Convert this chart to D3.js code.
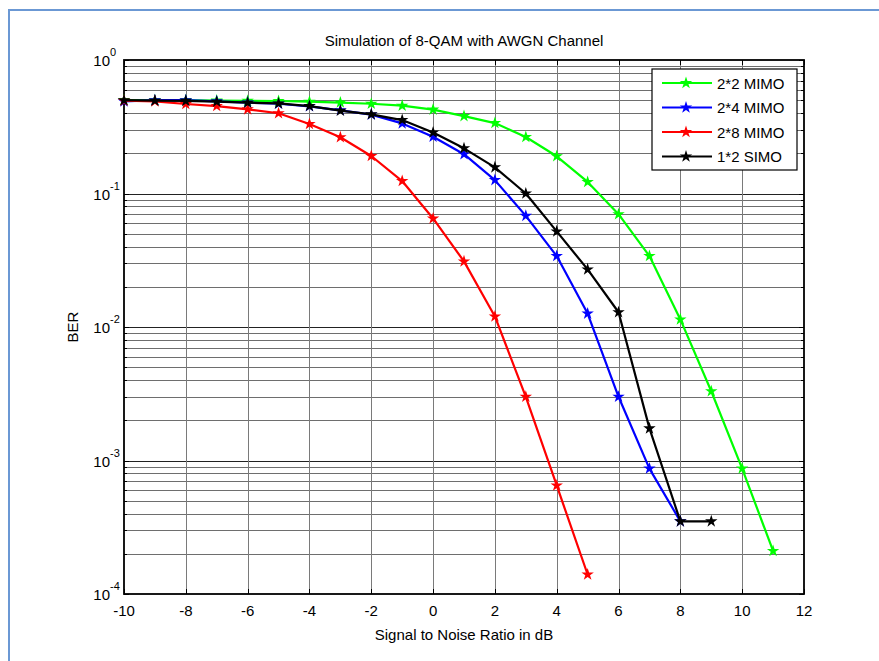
<!DOCTYPE html>
<html>
<head>
<meta charset="utf-8">
<script src="https://cdn.jsdelivr.net/npm/d3@7"></script>
<style>
  html, body { margin: 0; padding: 0; background: #fff; }
  svg { display: block; font-family: "Liberation Sans", Arial, sans-serif; }
</style>
</head>
<body>
<svg id="chart" width="879" height="661"></svg>
<script>
// SNR axis values (dB)
const snrGreen = d3.range(-10, 12);
const snrBlue = d3.range(-10, 9);
const snrRed = d3.range(-10, 6);
const snrBlack = d3.range(-10, 10);

// BER
const berMimo22 = [0.50, 0.50, 0.50, 0.497, 0.495, 0.493, 0.487, 0.48, 0.47, 0.455, 0.425,
  0.38, 0.337, 0.265, 0.19, 0.122, 0.07, 0.034, 0.0114, 0.0033, 0.00087, 0.00021];
const berMimo24 = [0.49, 0.50, 0.50, 0.49, 0.48, 0.47, 0.45, 0.42, 0.39, 0.335, 0.266,
  0.197, 0.126, 0.068, 0.034, 0.0126, 0.0030, 0.00087, 0.00035];
const berMimo28 = [0.495, 0.49, 0.468, 0.452, 0.427, 0.399, 0.332, 0.264, 0.191, 0.124,
  0.065, 0.031, 0.012, 0.003, 0.00065, 0.00014];
const berSimo12 = [0.50, 0.496, 0.494, 0.487, 0.479, 0.473, 0.452, 0.417, 0.392, 0.355, 0.286,
  0.218, 0.157, 0.10, 0.052, 0.027, 0.0129, 0.00174, 0.00035, 0.00035];

const seriesNames = ["2*2 MIMO", "2*4 MIMO", "2*8 MIMO", "1*2 SIMO"];
const seriesColors = ["#00ff00", "#0000ff", "#ff0000", "#000000"];
const xTicks = d3.range(-10, 13, 2);
const yDecades = [1, 0.1, 0.01, 0.001, 0.0001];

const series = [
  { name: seriesNames[0], color: seriesColors[0], x: snrGreen, y: berMimo22 },
  { name: seriesNames[1], color: seriesColors[1], x: snrBlue, y: berMimo24 },
  { name: seriesNames[2], color: seriesColors[2], x: snrRed, y: berMimo28 },
  { name: seriesNames[3], color: seriesColors[3], x: snrBlack, y: berSimo12 },
];

const svg = d3.select("#chart");

// page frame (blue border from the document)
svg.append("rect")
  .attr("x", 9).attr("y", 10)
  .attr("width", 900).attr("height", 700)
  .attr("fill", "none")
  .attr("stroke", "#6b98d4")
  .attr("stroke-width", 2);

const pLeft = 124, pRight = 804, pTop = 60, pBottom = 594;

const x = d3.scaleLinear().domain([-10, 12]).range([pLeft, pRight]);
const y = d3.scaleLog().domain([1e-4, 1]).range([pBottom, pTop]);

// minor values per decade
const yMinor = [];
[0.0001, 0.001, 0.01, 0.1].forEach(function (d) {
  for (let k = 2; k <= 9; k++) yMinor.push(d * k);
});

// grid
const grid = svg.append("g");
grid.selectAll("line.hm")
  .data(yMinor)
  .join("line")
  .attr("x1", pLeft).attr("x2", pRight)
  .attr("y1", (d) => Math.round(y(d)) + 0.5)
  .attr("y2", (d) => Math.round(y(d)) + 0.5)
  .attr("stroke", "#6e6e6e")
  .attr("stroke-width", 1);
grid.selectAll("line.hM")
  .data(yDecades.slice(1, -1))
  .join("line")
  .attr("x1", pLeft).attr("x2", pRight)
  .attr("y1", (d) => Math.round(y(d)) + 0.5)
  .attr("y2", (d) => Math.round(y(d)) + 0.5)
  .attr("stroke", "#222")
  .attr("stroke-width", 1);
grid.selectAll("line.v")
  .data(xTicks.slice(1, -1))
  .join("line")
  .attr("x1", (d) => Math.round(x(d)) + 0.5)
  .attr("x2", (d) => Math.round(x(d)) + 0.5)
  .attr("y1", pTop).attr("y2", pBottom)
  .attr("stroke", "#7a7a7a")
  .attr("stroke-width", 1);

// axes with inward ticks on all four sides
const axes = svg.append("g").attr("stroke", "#000").attr("stroke-width", 1);
xTicks.forEach(function (d) {
  const px = Math.round(x(d)) + 0.5;
  axes.append("line").attr("x1", px).attr("x2", px).attr("y1", pBottom).attr("y2", pBottom - 5);
  axes.append("line").attr("x1", px).attr("x2", px).attr("y1", pTop).attr("y2", pTop + 5);
});
yDecades.forEach(function (d) {
  const py = Math.round(y(d)) + 0.5;
  axes.append("line").attr("x1", pLeft).attr("x2", pLeft + 5).attr("y1", py).attr("y2", py);
  axes.append("line").attr("x1", pRight).attr("x2", pRight - 5).attr("y1", py).attr("y2", py);
});
yMinor.forEach(function (d) {
  const py = Math.round(y(d)) + 0.5;
  axes.append("line").attr("x1", pLeft).attr("x2", pLeft + 3).attr("y1", py).attr("y2", py);
  axes.append("line").attr("x1", pRight).attr("x2", pRight - 3).attr("y1", py).attr("y2", py);
});
svg.append("rect")
  .attr("x", pLeft).attr("y", pTop)
  .attr("width", pRight - pLeft).attr("height", pBottom - pTop)
  .attr("fill", "none")
  .attr("stroke", "#000")
  .attr("stroke-width", 1.8);

// tick labels
svg.append("g")
  .selectAll("text")
  .data(xTicks)
  .join("text")
  .attr("x", (d) => x(d))
  .attr("y", pBottom + 22)
  .attr("text-anchor", "middle")
  .attr("font-size", 15)
  .text((d) => d);

const yLab = svg.append("g")
  .selectAll("g")
  .data(yDecades)
  .join("g")
  .attr("transform", (d) => `translate(${pLeft - 14},${y(d)})`);
yLab.append("text")
  .attr("y", 6)
  .attr("text-anchor", "end")
  .attr("font-size", 15)
  .text("10");
yLab.append("text")
  .attr("x", 0)
  .attr("y", -4)
  .attr("font-size", 11)
  .text((d) => Math.round(Math.log10(d)));

// titles
svg.append("text")
  .attr("x", (pLeft + pRight) / 2).attr("y", 46)
  .attr("text-anchor", "middle")
  .attr("font-size", 15)
  .text("Simulation of 8-QAM with AWGN Channel");
svg.append("text")
  .attr("x", (pLeft + pRight) / 2).attr("y", 640)
  .attr("text-anchor", "middle")
  .attr("font-size", 15)
  .text("Signal to Noise Ratio in dB");
svg.append("text")
  .attr("transform", `translate(78,${(pTop + pBottom) / 2}) rotate(-90)`)
  .attr("text-anchor", "middle")
  .attr("font-size", 15)
  .text("BER");

// series
const line = d3.line().x((d) => x(d[0])).y((d) => y(d[1]));
const star = d3.symbol().type(d3.symbolStar).size(48);

series.forEach(function (s) {
  const pts = s.x.map((v, i) => [v, s.y[i]]);
  const g = svg.append("g");
  g.append("path")
    .attr("d", line(pts))
    .attr("fill", "none")
    .attr("stroke", s.color)
    .attr("stroke-width", 2.2)
    .attr("stroke-linejoin", "round");
  g.selectAll("path.m")
    .data(pts)
    .join("path")
    .attr("class", "m")
    .attr("transform", (d) => `translate(${x(d[0])},${y(d[1])})`)
    .attr("d", star)
    .attr("fill", s.color);
});

// legend
const lg = svg.append("g");
lg.append("rect")
  .attr("x", 652).attr("y", 69)
  .attr("width", 145).attr("height", 101)
  .attr("fill", "#fff")
  .attr("stroke", "#000")
  .attr("stroke-width", 1.2);
const item = lg.selectAll("g")
  .data(series)
  .join("g")
  .attr("transform", (d, i) => `translate(0,${83 + i * 24.5})`);
item.append("line")
  .attr("x1", 662).attr("x2", 712)
  .attr("stroke", (d) => d.color)
  .attr("stroke-width", 2.2);
item.append("path")
  .attr("transform", "translate(686,0)")
  .attr("d", star)
  .attr("fill", (d) => d.color);
item.append("text")
  .attr("x", 717).attr("y", 5.5)
  .attr("font-size", 15)
  .text((d) => d.name);
</script>
</body>
</html>
